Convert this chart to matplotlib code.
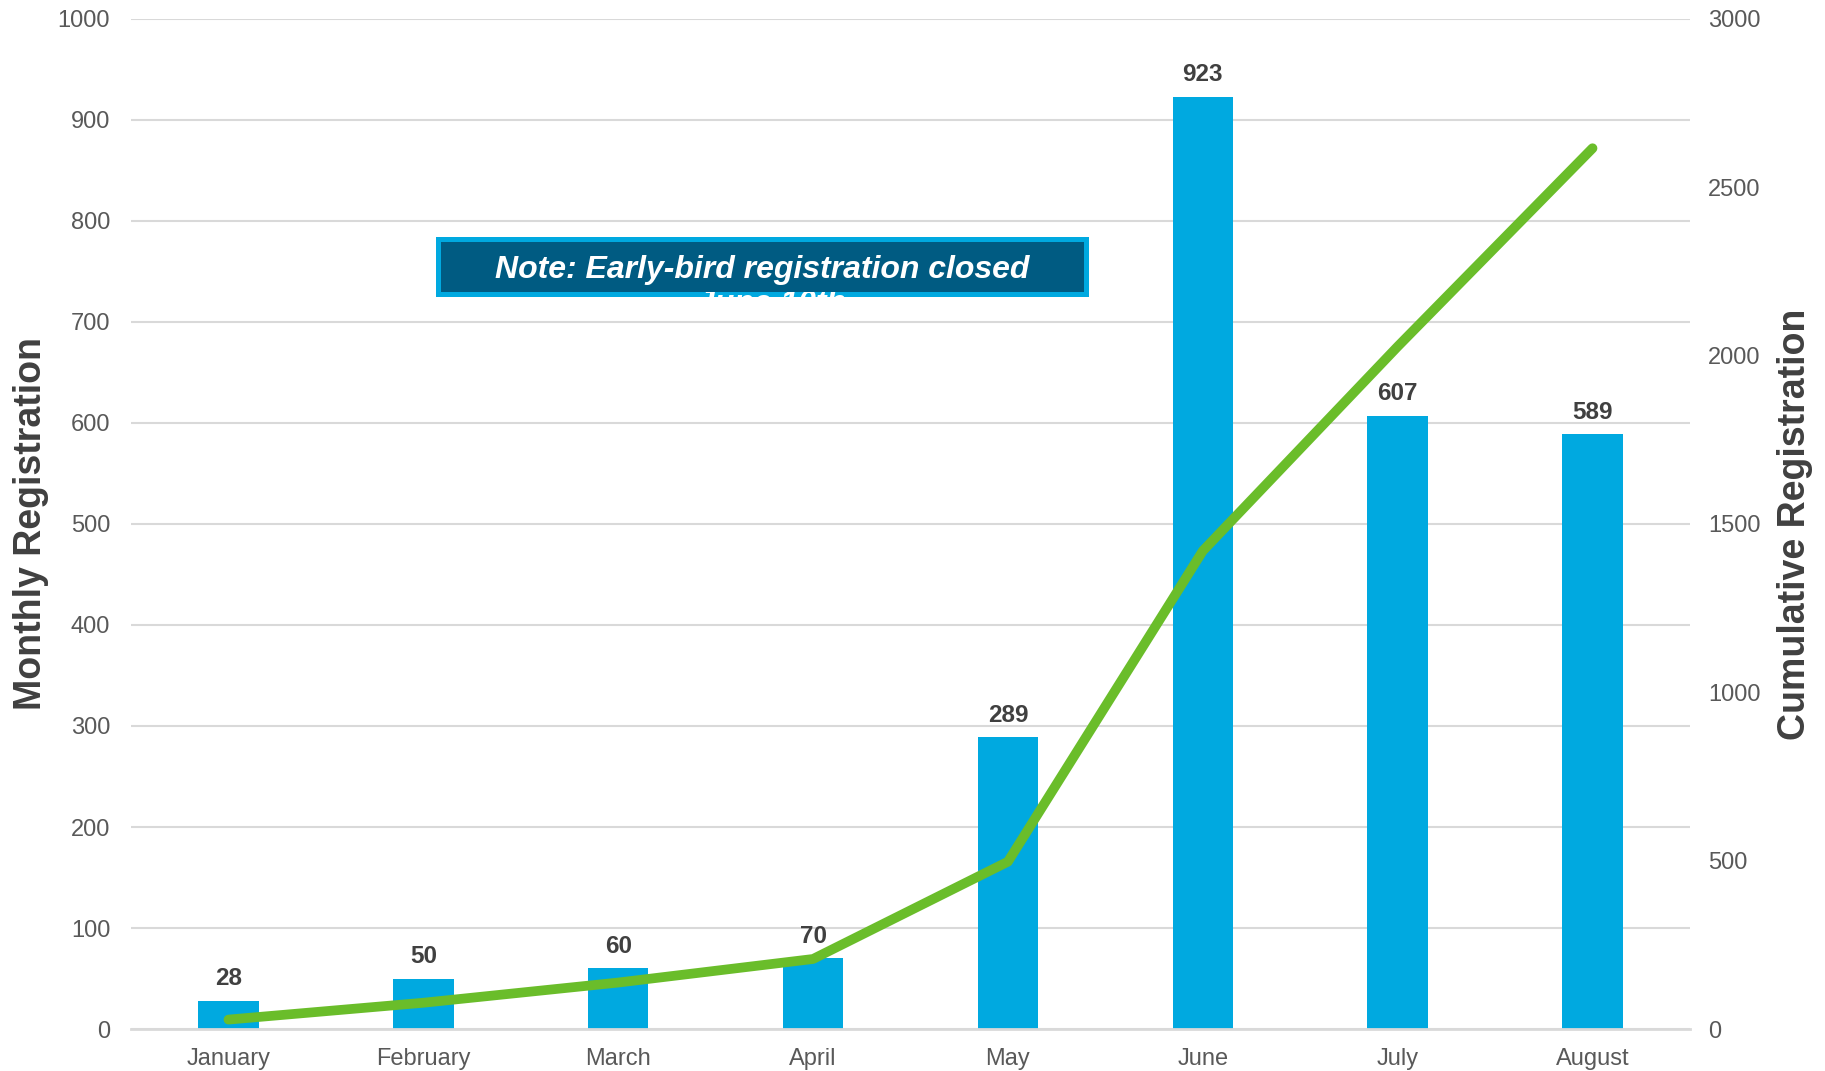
import matplotlib
matplotlib.use("Agg")
import matplotlib.pyplot as plt
from matplotlib.patches import Rectangle

plt.rcParams['font.family'] = ['Liberation Sans', 'DejaVu Sans']

months = ["January", "February", "March", "April", "May", "June", "July", "August"]
monthly = [28, 50, 60, 70, 289, 923, 607, 589]
cumulative = [28, 78, 138, 208, 497, 1420, 2027, 2616]
left_ticks = list(range(0, 1001, 100))
right_ticks = list(range(0, 3001, 500))
note_line1 = "Note: Early-bird registration closed"
note_line2 = "June 10th"

BAR = "#00A9E0"
GREEN = "#6ABD2A"
TICK = "#595959"
LABEL = "#404040"

fig = plt.figure(figsize=(18.25, 10.71), dpi=100)
ax = fig.add_axes([0.0718, 0.0392, 0.8542, 0.9431])
x = list(range(len(months)))

ax.bar(x, monthly, width=0.31, color=BAR, zorder=2)
ax.set_xlim(-0.5, len(months) - 0.5)
ax.set_ylim(0, 1000)
ax.set_yticks(left_ticks)
ax.set_xticks(x)
ax.set_xticklabels(months)
ax.grid(axis="y", color="#D9D9D9", linewidth=1.5, zorder=0)
ax.set_axisbelow(True)
for s in ["top", "right", "left"]:
    ax.spines[s].set_visible(False)
ax.spines["bottom"].set_color("#D9D9D9")
ax.spines["bottom"].set_linewidth(2)
ax.tick_params(axis="both", length=0, labelsize=17, colors=TICK)
ax.tick_params(axis="y", pad=15)
ax.tick_params(axis="x", pad=14)
ax.set_ylabel("Monthly Registration", fontsize=27, fontweight="bold", color=LABEL, labelpad=6)

for xi, v in zip(x, monthly):
    ax.annotate(str(v), (xi, v), xytext=(0, 7.5), textcoords="offset points",
                ha="center", va="bottom", fontsize=17.5, fontweight="bold", color=LABEL)

ax2 = ax.twinx()
ax2.plot(x, cumulative, color=GREEN, linewidth=7, solid_capstyle="round",
         solid_joinstyle="round", zorder=3)
ax2.set_ylim(0, 3000)
ax2.set_yticks(right_ticks)
for s in ["top", "right", "left", "bottom"]:
    ax2.spines[s].set_visible(False)
ax2.tick_params(axis="y", length=0, labelsize=17, colors=TICK, pad=13)
ax2.set_ylabel("Cumulative Registration", fontsize=27, fontweight="bold", color=LABEL, labelpad=12)

# note box
bx, by, bw, bh = 0.1956, 0.725, 0.419, 0.0594
outer = Rectangle((bx, by), bw, bh, transform=ax2.transAxes, facecolor=BAR,
                  edgecolor="none", zorder=5)
ax2.add_patch(outer)
bpx = 5 / (0.8542 * 1825)
bpy = 5 / (0.9431 * 1071)
inner = Rectangle((bx + bpx, by + bpy), bw - 2 * bpx, bh - 2 * bpy, transform=ax2.transAxes,
                  facecolor="#005B82", edgecolor="none", zorder=6)
ax2.add_patch(inner)
ax2.text(bx + bw / 2, by + bh * 0.45, note_line1, transform=ax2.transAxes, ha="center",
         va="center", fontsize=23, fontweight="bold", fontstyle="italic", color="white", zorder=7)
ax2.text(bx + bw / 2 + 0.006, by + 0.008, note_line2, transform=ax2.transAxes,
         ha="center", va="top", fontsize=23, fontweight="bold", fontstyle="italic",
         color="white", zorder=5.5)

fig.savefig("out.png", dpi=100, facecolor="white")
